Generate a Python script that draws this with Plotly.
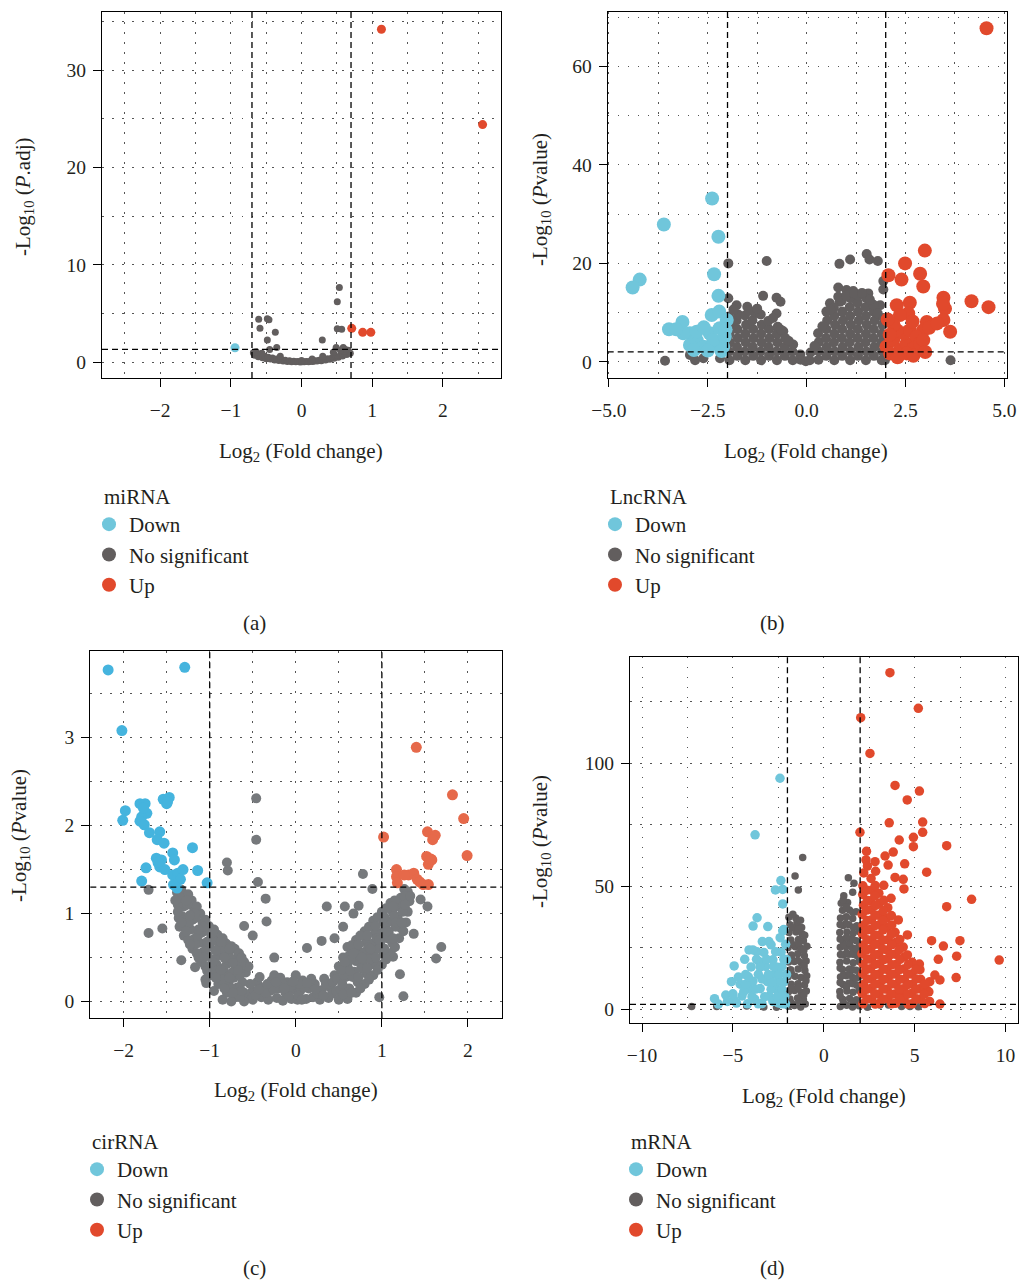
import plotly.graph_objects as go

FONT = "Liberation Serif"
W, H = 1019, 1282

# ---------------- data ----------------
categories = ["Down", "No significant", "Up"]
legend_titles = ["miRNA", "LncRNA", "cirRNA", "mRNA"]
panel_labels = ["(a)", "(b)", "(c)", "(d)"]
y_titles = ["-Log<sub>10</sub> (<i>P</i>.adj)", "-Log<sub>10</sub> (<i>P</i>value)",
            "-Log<sub>10</sub> (<i>P</i>value)", "-Log<sub>10</sub> (<i>P</i>value)"]
x_title = "Log<sub>2</sub> (Fold change)"

# thresholds (log2FC, -log10 p)
fc_cut = [0.7, 2.0, 1.0, 2.0]
p_cut = [1.3, 2.0, 1.3, 2.0]

# ticks
a_xticks = [-2, -1, 0, 1, 2]
a_yticks = [0, 10, 20, 30]
b_xticks = [-5, -2.5, 0, 2.5, 5]
b_xticktext = ["\u22125.0", "\u22122.5", "0.0", "2.5", "5.0"]
b_yticks = [0, 20, 40, 60]
c_xticks = [-2, -1, 0, 1, 2]
c_yticks = [0, 1, 2, 3]
d_xticks = [-10, -5, 0, 5, 10]
d_yticks = [0, 50, 100]

# (a) miRNA
A_UP = [(1.13, 34.2), (2.56, 24.4), (0.71, 3.46), (0.865, 3.05), (0.98, 3.05)]
A_DOWN = [(-0.94, 1.47)]
A_NS = [(-0.605, 4.39), (-0.483, 4.45), (-0.46, 4.35), (-0.587, 3.46), (-0.37, 3.05),
        (-0.483, 2.26), (-0.35, 1.5), (0.294, 2.26), (0.535, 7.67), (0.506, 6.2),
        (0.506, 3.42), (0.568, 3.36), (0.49, 1.5), (0.59, 1.5),
        (-0.68, 0.95), (-0.66, 0.7), (-0.63, 0.85), (-0.61, 0.55), (-0.58, 0.7), (-0.55, 0.45),
        (-0.52, 0.6), (-0.5, 0.35), (-0.47, 0.5), (-0.44, 0.3), (-0.41, 0.42), (-0.38, 0.22),
        (-0.35, 0.32), (-0.32, 0.15), (-0.29, 0.25), (-0.26, 0.1), (-0.23, 0.18), (-0.2, 0.06),
        (-0.17, 0.12), (-0.14, 0.04), (-0.11, 0.08), (-0.08, 0.02), (-0.05, 0.05), (-0.02, 0.01),
        (0.01, 0.03), (0.04, 0.02), (0.07, 0.05), (0.1, 0.03), (0.13, 0.08), (0.16, 0.06),
        (0.19, 0.12), (0.22, 0.1), (0.25, 0.18), (0.28, 0.14), (0.31, 0.25), (0.34, 0.2),
        (0.37, 0.33), (0.4, 0.28), (0.43, 0.42), (0.46, 0.38), (0.49, 0.55), (0.52, 0.5),
        (0.55, 0.7), (0.58, 0.62), (0.61, 0.85), (0.64, 0.78), (0.67, 1.0), (0.69, 0.9),
        (0.66, 1.2), (0.6, 1.1), (-0.45, 1.3), (0.15, 0.3), (0.3, 0.6), (-0.3, 0.6),
        (0.0, 0.15), (0.45, 1.0), (0.62, 1.3), (0.55, 1.2), (-0.64, 1.05), (-0.56, 0.9)]

# (b) LncRNA
B_UP = [(4.55, 67.8), (2.99, 22.6), (2.49, 20.0), (2.87, 17.9), (2.95, 15.3), (2.07, 17.6),
        (2.40, 16.7), (4.17, 12.3), (4.60, 11.1), (3.46, 13.0), (3.50, 10.8), (3.46, 8.5),
        (3.63, 6.1), (2.28, 11.5), (2.61, 12.0), (2.57, 9.8), (3.04, 8.1), (2.95, 6.4),
        (2.02, 3.05), (2.19, 4.4), (2.36, 2.4), (2.53, 3.7), (2.70, 2.7), (2.45, 5.8),
        (2.61, 6.4), (2.78, 5.1), (2.87, 3.7), (2.28, 6.4), (2.11, 1.7), (2.53, 1.7),
        (2.95, 4.4), (3.45, 11.8), (2.36, 9.5), (2.2, 7.5), (2.1, 5.5), (2.68, 8.2),
        (2.3, 0.9), (2.7, 1.2), (3.0, 2.0), (2.05, 8.6), (3.1, 6.9), (3.3, 7.8)]
B_DOWN = [(-2.39, 33.2), (-3.61, 27.9), (-2.23, 25.4), (-2.34, 17.8), (-2.23, 13.4),
          (-4.22, 16.7), (-4.40, 15.1), (-3.48, 6.6), (-3.14, 8.1), (-2.95, 5.8),
          (-2.40, 9.5), (-2.21, 10.2), (-2.02, 8.5), (-2.78, 4.4), (-2.95, 3.4),
          (-2.45, 5.8), (-2.28, 3.7), (-2.11, 3.05), (-2.61, 3.05), (-3.12, 5.8),
          (-2.78, 6.1), (-2.36, 4.4), (-2.07, 5.1), (-2.6, 7.0), (-2.2, 6.8),
          (-2.5, 2.3), (-2.15, 2.2), (-2.85, 2.4), (-3.3, 6.6), (-2.05, 6.5)]
B_NS = [(-1.98, 20.0), (-1.98, 12.9), (-1.01, 20.5), (-1.10, 13.4), (-0.76, 13.0),
        (-0.66, 12.2), (-0.76, 9.8), (-1.77, 11.5), (-1.50, 11.2), (-1.22, 9.8), (-0.59, 6.2),
        (0.83, 19.9), (1.10, 20.8), (1.52, 21.9), (1.59, 20.8), (1.80, 20.5), (0.80, 15.1),
        (1.01, 14.6), (1.18, 14.4), (1.56, 13.9), (1.94, 14.7), (1.94, 16.4), (0.59, 11.9),
        (0.84, 12.2), (1.26, 12.5), (1.59, 11.5), (1.86, 11.5), (-3.58, 0.2), (3.64, 0.3),
        (1.98, 4.1), (1.98, 0.3), (-2.95, 1.4), (-2.82, 0.3), (-2.61, 0.7), (-2.19, 0.7),
        (-1.95, 0.3), (-1.96, 2.1), (-1.94, 3.9), (-1.95, 5.7), (-1.93, 7.5), (-1.96, 9.2),
        (-1.75, 1.2), (-1.76, 3.0), (-1.74, 4.8), (-1.75, 6.6), (-1.77, 8.4), (-1.73, 9.6),
        (-1.55, 0.3), (-1.56, 2.1), (-1.54, 3.9), (-1.55, 5.7), (-1.53, 7.5), (-1.56, 9.4),
        (-1.35, 1.2), (-1.36, 3.0), (-1.34, 4.8), (-1.35, 6.6), (-1.37, 8.4), (-1.33, 10.1),
        (-1.15, 0.3), (-1.16, 2.1), (-1.14, 3.9), (-1.15, 5.7), (-1.13, 7.5), (-1.16, 9.6),
        (-0.95, 1.2), (-0.96, 3.0), (-0.94, 4.8), (-0.95, 6.6), (-0.97, 8.3),
        (-0.75, 0.3), (-0.76, 2.1), (-0.74, 3.9), (-0.75, 5.7), (-0.73, 7.1),
        (-0.55, 1.2), (-0.56, 3.0), (-0.54, 4.8),
        (-0.35, 0.3), (-0.36, 2.1), (-0.34, 3.5), (-0.15, 0.4), (-0.16, 1.5), (-0.02, 0.1),
        (-1.85, 10.6), (-1.45, 10.4), (-1.25, 10.8), (-0.85, 8.9), (-0.65, 6.5), (-0.45, 4.2),
        (0.08, 0.3), (0.1, 1.9), (0.3, 0.4), (0.3, 2.2), (0.31, 4.0), (0.29, 5.8),
        (0.5, 1.2), (0.51, 3.0), (0.49, 4.8), (0.5, 6.6), (0.52, 8.4), (0.5, 10.2),
        (0.7, 0.3), (0.71, 2.1), (0.69, 3.9), (0.7, 5.7), (0.72, 7.5), (0.7, 9.3), (0.69, 11.0),
        (0.9, 1.2), (0.91, 3.0), (0.89, 4.8), (0.9, 6.6), (0.92, 8.4), (0.9, 10.2), (0.89, 12.4),
        (1.1, 0.3), (1.11, 2.1), (1.09, 3.9), (1.1, 5.7), (1.12, 7.5), (1.1, 9.3), (1.09, 11.1),
        (1.11, 12.9),
        (1.3, 1.2), (1.31, 3.0), (1.29, 4.8), (1.3, 6.6), (1.32, 8.4), (1.3, 10.2), (1.29, 12.0),
        (1.31, 13.5),
        (1.5, 0.3), (1.51, 2.1), (1.49, 3.9), (1.5, 5.7), (1.52, 7.5), (1.5, 9.3), (1.49, 11.1),
        (1.51, 12.9),
        (1.7, 1.2), (1.71, 3.0), (1.69, 4.8), (1.7, 6.6), (1.72, 8.4), (1.7, 10.2), (1.69, 11.6),
        (1.9, 0.3), (1.91, 2.1), (1.89, 3.9), (1.9, 5.7), (1.92, 7.5),
        (0.2, 3.2), (0.4, 7.2), (0.6, 10.6), (0.8, 13.2), (1.0, 13.4), (1.2, 13.9), (1.4, 14.0),
        (1.6, 12.6), (1.8, 9.8), (1.95, 8.9)]

# (c) cirRNA
C_UP = [(1.40, 2.89), (1.82, 2.35), (1.95, 2.08), (1.02, 1.87), (1.53, 1.93), (1.62, 1.89),
        (1.59, 1.84), (1.99, 1.66), (1.52, 1.65), (1.58, 1.61), (1.54, 1.56), (1.17, 1.50),
        (1.17, 1.42), (1.18, 1.35), (1.31, 1.44), (1.37, 1.46), (1.41, 1.39), (1.48, 1.33),
        (1.54, 1.33), (1.26, 1.44), (1.44, 1.36), (1.57, 1.62)]
C_DOWN = [(-2.18, 3.77), (-1.29, 3.80), (-2.02, 3.08), (-1.98, 2.17), (-2.01, 2.06),
          (-1.81, 2.25), (-1.75, 2.25), (-1.73, 2.14), (-1.79, 2.10), (-1.81, 2.05),
          (-1.76, 2.01), (-1.70, 1.92), (-1.54, 2.30), (-1.47, 2.32), (-1.50, 2.25),
          (-1.58, 1.93), (-1.61, 1.84), (-1.53, 1.80), (-1.62, 1.63), (-1.56, 1.61),
          (-1.58, 1.53), (-1.52, 1.50), (-1.43, 1.69), (-1.41, 1.61), (-1.20, 1.75),
          (-1.14, 1.49), (-1.74, 1.52), (-1.79, 1.37), (-1.43, 1.44), (-1.37, 1.46),
          (-1.31, 1.50), (-1.34, 1.39), (-1.42, 1.33), (-1.38, 1.29), (-1.03, 1.35),
          (-1.77, 2.2), (-1.49, 2.27), (-1.6, 1.58)]
C_NS = [(-0.46, 2.31), (-0.46, 1.84), (-0.80, 1.58), (-0.79, 1.49), (-0.44, 1.36), (0.78, 1.45),
        (-1.71, 1.27), (-1.71, 0.78), (-1.55, 0.83), (0.89, 1.28), (1.45, 1.16), (1.53, 1.08),
        (1.69, 0.62), (1.63, 0.49), (1.25, 0.06), (0.97, 0.05), (1.21, 0.31), (1.37, 0.77),
        (-1.33, 0.47), (-1.17, 0.39), (-0.35, 1.17), (-0.34, 0.91), (0.36, 1.08), (0.57, 1.08),
        (0.73, 1.09), (0.13, 0.61), (0.30, 0.69), (0.67, 1.00), (-1.04, 0.21), (1.15, 0.62),
        (1.13, 0.51), (-0.5, 0.75), (-0.6, 0.86), (-0.25, 0.5), (0.45, 0.72), (0.55, 0.85),
        (-0.5, 0.02), (-0.5, 0.12), (-0.45, 0.22), (-0.4, 0.05), (-0.38, 0.16), (-0.32, 0.02),
        (-0.3, 0.12), (-0.28, 0.24), (-0.22, 0.04), (-0.2, 0.15), (-0.15, 0.01), (-0.12, 0.1),
        (-0.1, 0.22), (-0.05, 0.03), (-0.02, 0.14), (0.02, 0.02), (0.05, 0.12), (0.08, 0.24),
        (0.12, 0.03), (0.15, 0.15), (0.2, 0.05), (0.22, 0.2), (0.28, 0.02), (0.3, 0.13),
        (0.33, 0.26), (0.38, 0.04), (0.4, 0.16), (0.45, 0.3), (-0.25, 0.3), (0.0, 0.3),
        (-0.47, 0.07), (-0.42, 0.28), (-0.35, 0.1), (-0.26, 0.14), (-0.18, 0.27), (-0.08, 0.06),
        (-0.07, 0.17), (0.03, 0.07), (0.1, 0.16), (0.18, 0.26), (0.25, 0.09), (0.35, 0.2),
        (0.42, 0.09), (-0.15, 0.2), (0.05, 0.2),
        (-0.57, 0.05), (-0.53, 0.2), (-0.43, 0.14), (-0.33, 0.2), (-0.23, 0.22), (-0.13, 0.15),
        (-0.03, 0.23), (0.07, 0.02), (0.13, 0.21), (0.23, 0.14), (0.32, 0.07), (0.43, 0.22),
        (0.47, 0.12),
        (-0.6, 0.0), (-0.6, 0.1), (-0.62, 0.22), (-0.58, 0.33), (-0.6, 0.45), (-0.55, 0.4),
        (-0.7, 0.05), (-0.68, 0.16), (-0.72, 0.27), (-0.7, 0.38), (-0.68, 0.5), (-0.71, 0.6),
        (-0.8, 0.1), (-0.78, 0.21), (-0.82, 0.32), (-0.8, 0.43), (-0.78, 0.55), (-0.81, 0.66),
        (-0.9, 0.2), (-0.88, 0.31), (-0.92, 0.42), (-0.9, 0.53), (-0.88, 0.64), (-0.91, 0.76),
        (-1.0, 0.3), (-0.98, 0.41), (-1.02, 0.52), (-1.0, 0.63), (-0.98, 0.74), (-1.01, 0.86),
        (-1.1, 0.45), (-1.08, 0.56), (-1.12, 0.67), (-1.1, 0.78), (-1.08, 0.89), (-1.11, 1.0),
        (-1.2, 0.6), (-1.18, 0.71), (-1.22, 0.82), (-1.2, 0.93), (-1.18, 1.04), (-1.21, 1.15),
        (-1.3, 0.75), (-1.28, 0.86), (-1.32, 0.97), (-1.3, 1.08), (-1.28, 1.19),
        (-1.36, 0.95), (-1.37, 1.1), (-1.38, 1.24), (-1.33, 1.27), (-0.95, 0.12),
        (-0.85, 0.02), (-0.75, 0.0), (-1.05, 0.25),
        (-0.65, 0.05), (-0.65, 0.3), (-0.64, 0.42), (-0.66, 0.55), (-0.75, 0.15), (-0.74, 0.33),
        (-0.76, 0.49), (-0.75, 0.63), (-0.85, 0.25), (-0.84, 0.38), (-0.86, 0.6), (-0.85, 0.72),
        (-0.95, 0.35), (-0.94, 0.48), (-0.96, 0.69), (-0.95, 0.82), (-1.05, 0.4), (-1.04, 0.6),
        (-1.06, 0.8), (-1.05, 0.93), (-1.15, 0.55), (-1.14, 0.75), (-1.16, 0.95), (-1.15, 1.08),
        (-1.25, 0.7), (-1.24, 0.9), (-1.26, 1.1), (-1.25, 1.22), (-1.35, 0.85), (-1.34, 1.18),
        (-0.63, 0.12), (-0.67, 0.36), (-0.63, 0.5), (-0.73, 0.1), (-0.77, 0.27), (-0.73, 0.44),
        (-0.77, 0.6), (-0.83, 0.15), (-0.87, 0.36), (-0.83, 0.5), (-0.87, 0.68), (-0.93, 0.27),
        (-0.97, 0.45), (-0.93, 0.58), (-0.97, 0.78), (-1.03, 0.35), (-1.07, 0.5), (-1.03, 0.68),
        (-1.07, 0.85), (-1.13, 0.5), (-1.17, 0.65), (-1.13, 0.82), (-1.17, 1.0), (-1.23, 0.65),
        (-1.27, 0.8), (-1.23, 0.98), (-1.27, 1.15), (-1.33, 0.9), (-1.37, 1.02), (-1.4, 1.15),
        (0.5, 0.02), (0.52, 0.14), (0.48, 0.26), (0.5, 0.4), (0.55, 0.5),
        (0.6, 0.03), (0.62, 0.15), (0.58, 0.28), (0.6, 0.4), (0.62, 0.52), (0.6, 0.62),
        (0.7, 0.1), (0.72, 0.22), (0.68, 0.34), (0.7, 0.46), (0.72, 0.58), (0.7, 0.7),
        (0.8, 0.2), (0.82, 0.32), (0.78, 0.44), (0.8, 0.56), (0.82, 0.68), (0.8, 0.8),
        (0.9, 0.3), (0.92, 0.42), (0.88, 0.54), (0.9, 0.66), (0.92, 0.78), (0.9, 0.92),
        (1.0, 0.42), (1.02, 0.54), (0.98, 0.66), (1.0, 0.78), (1.02, 0.9), (1.0, 1.02),
        (1.1, 0.55), (1.12, 0.67), (1.08, 0.79), (1.1, 0.91), (1.12, 1.03), (1.1, 1.12),
        (1.2, 0.72), (1.22, 0.84), (1.18, 0.96), (1.2, 1.08), (1.22, 1.18),
        (1.28, 0.9), (1.3, 1.02), (1.32, 1.14), (1.3, 1.25), (1.26, 1.28),
        (0.55, 0.08), (0.56, 0.3), (0.54, 0.2), (0.65, 0.1), (0.66, 0.28), (0.64, 0.48),
        (0.65, 0.64), (0.75, 0.15), (0.76, 0.38), (0.74, 0.52), (0.75, 0.75), (0.85, 0.25),
        (0.86, 0.48), (0.84, 0.62), (0.85, 0.85), (0.95, 0.36), (0.96, 0.6), (0.94, 0.72),
        (0.95, 0.96), (1.05, 0.48), (1.06, 0.72), (1.04, 0.84), (1.05, 1.06), (1.15, 0.62),
        (1.16, 0.85), (1.14, 0.98), (1.15, 1.15), (1.25, 0.8), (1.24, 1.02), (1.26, 1.2),
        (0.53, 0.36), (0.57, 0.45), (0.63, 0.35), (0.67, 0.55), (0.73, 0.28), (0.77, 0.5),
        (0.73, 0.65), (0.83, 0.38), (0.87, 0.6), (0.83, 0.75), (0.93, 0.5), (0.97, 0.7),
        (0.93, 0.86), (1.03, 0.6), (1.07, 0.8), (1.03, 0.96), (1.13, 0.72), (1.17, 0.9),
        (1.13, 1.08), (1.23, 0.9), (1.27, 1.1), (1.33, 1.2)]

# (d) mRNA
D_UP = [(3.64, 136.8), (5.20, 122.3), (2.03, 118.5), (2.54, 104.0), (3.92, 91.0), (5.26, 88.7),
        (4.59, 85.1), (3.60, 75.8), (5.44, 76.1), (5.44, 71.9), (1.99, 71.9), (4.15, 68.8),
        (4.93, 69.9), (4.93, 66.1), (6.76, 66.5), (3.82, 63.9), (3.37, 62.3), (2.32, 60.7),
        (2.82, 60.0), (3.54, 58.6), (4.45, 59.1), (5.66, 55.7), (3.92, 53.6), (4.37, 52.8),
        (4.41, 48.9), (8.13, 44.7), (6.76, 41.7), (5.93, 27.9), (7.49, 27.9), (6.58, 25.7),
        (7.31, 21.6), (9.65, 20.0), (6.30, 20.3), (7.28, 12.9), (6.39, 2.1), (5.26, 18.4),
        (6.11, 13.9), (6.39, 11.9), (5.66, 7.8), (4.3, 6.5), (5.1, 4.2),
        (2.15, 2.2), (2.12, 6.3), (2.18, 10.1), (2.14, 14.4), (2.16, 18.2), (2.1, 22.5),
        (2.17, 26.1), (2.13, 30.4), (2.16, 34.2), (2.11, 38.5), (2.18, 42.3), (2.14, 46.6),
        (2.15, 50.2), (2.2, 55.4), (2.62, 4.1), (2.58, 8.4), (2.63, 12.2), (2.57, 16.5),
        (2.61, 20.3), (2.59, 24.6), (2.64, 28.2), (2.56, 32.4), (2.62, 36.3), (2.6, 40.5),
        (2.58, 44.1), (2.63, 48.4), (2.6, 53.2), (3.05, 2.3), (3.02, 6.1), (3.08, 10.4),
        (3.03, 14.2), (3.07, 18.5), (3.01, 22.3), (3.06, 26.4), (3.04, 30.1), (3.09, 34.5),
        (3.02, 38.2), (3.06, 43.1), (3.03, 47.2), (3.52, 4.3), (3.48, 8.1), (3.53, 12.4),
        (3.47, 16.2), (3.51, 20.5), (3.49, 24.1), (3.54, 28.3), (3.5, 33.2), (3.46, 37.1),
        (3.52, 41.3), (3.95, 2.4), (3.92, 6.2), (3.97, 10.1), (3.94, 14.3), (3.98, 18.2),
        (3.93, 22.4), (3.96, 27.1), (3.92, 31.3), (4.41, 4.2), (4.38, 8.3), (4.43, 12.1),
        (4.39, 16.4), (4.42, 21.2), (4.37, 25.3), (4.86, 2.2), (4.83, 6.4), (4.88, 10.2),
        (4.84, 14.3), (4.87, 19.1), (5.32, 4.1), (5.28, 8.3), (5.33, 12.2), (5.29, 16.1),
        (5.82, 3.2), (5.78, 7.1), (5.83, 11.2), (2.4, 58.2), (2.85, 56.1), (3.3, 50.4),
        (2.35, 64.2), (3.7, 45.1), (4.1, 36.3), (4.6, 30.2),
        (2.38, 4.2), (2.36, 8.1), (2.39, 12.3), (2.37, 16.2), (2.4, 20.4), (2.35, 24.1),
        (2.38, 28.3), (2.36, 32.2), (2.39, 36.1), (2.37, 40.3), (2.4, 44.2), (2.36, 48.4),
        (2.83, 2.1), (2.81, 6.3), (2.84, 10.2), (2.82, 14.1), (2.85, 18.3), (2.8, 22.2),
        (2.83, 26.4), (2.81, 30.2), (2.84, 34.1), (2.82, 38.3), (2.85, 42.2), (2.81, 46.1),
        (2.83, 50.3), (3.28, 4.1), (3.26, 8.2), (3.29, 12.1), (3.27, 16.3), (3.3, 20.2),
        (3.25, 24.4), (3.28, 28.1), (3.26, 32.3), (3.29, 36.2), (3.27, 40.1), (3.3, 44.3),
        (3.73, 2.2), (3.71, 6.1), (3.74, 10.3), (3.72, 14.2), (3.75, 18.1), (3.7, 22.3),
        (3.73, 26.2), (3.71, 30.4), (3.74, 34.3), (3.72, 38.1), (4.18, 4.3), (4.16, 8.1),
        (4.19, 12.2), (4.17, 16.1), (4.2, 20.3), (4.15, 24.2), (4.18, 28.4), (4.63, 2.1),
        (4.61, 6.2), (4.64, 10.1), (4.62, 14.3), (4.65, 18.2), (4.6, 22.1), (5.08, 4.2),
        (5.06, 8.1), (5.09, 12.3), (5.07, 16.2), (5.55, 2.3), (5.53, 6.1), (5.56, 10.2)]
D_DOWN = [(-2.41, 93.9), (-3.78, 70.9), (-2.36, 52.3), (-2.26, 48.7), (-2.66, 48.5), (-2.26, 42.8),
          (-3.67, 37.2), (-3.89, 33.8), (-3.08, 33.6), (-2.26, 31.9), (-3.38, 27.5), (-3.02, 27.5),
          (-4.11, 24.1), (-3.68, 23.4), (-4.35, 20.3), (-4.93, 17.6), (-3.56, 19.4), (-5.08, 11.2),
          (-5.39, 5.8), (-6.01, 4.3), (-4.94, 3.8),
          (-5.8, 2.1), (-5.3, 3.2), (-5.0, 6.3), (-4.8, 2.5), (-4.6, 10.2), (-4.5, 5.4),
          (-4.3, 14.1), (-4.2, 2.2), (-4.1, 8.3), (-4.0, 17.2), (-3.9, 11.4), (-3.8, 4.1),
          (-3.7, 20.3), (-3.6, 14.2), (-3.5, 8.4), (-3.4, 2.3), (-3.3, 23.1), (-3.2, 17.4),
          (-3.1, 11.2), (-3.0, 5.3), (-2.9, 26.2), (-2.8, 20.1), (-2.7, 14.3), (-2.6, 8.2),
          (-2.5, 2.6), (-2.4, 29.1), (-2.35, 23.2), (-2.3, 17.3), (-2.2, 11.1), (-2.15, 5.2),
          (-2.1, 26.4), (-2.05, 20.2), (-2.05, 14.1), (-2.1, 2.1), (-2.6, 17.2), (-3.4, 12.3),
          (-4.4, 7.2), (-3.9, 24.1), (-2.8, 3.2), (-2.2, 32.4), (-2.5, 11.3), (-2.9, 8.1),
          (-4.7, 13.1), (-4.3, 10.2), (-3.95, 5.1), (-3.6, 2.2), (-3.25, 5.1), (-3.15, 20.3),
          (-2.85, 11.1), (-2.65, 23.4), (-2.55, 5.2), (-2.3, 8.1), (-2.2, 20.3), (-2.45, 14.2),
          (-3.5, 17.1), (-4.15, 13.2), (-3.05, 14.1), (-2.75, 17.3), (-2.3, 2.2), (-3.75, 8.2)]
D_NS = [(-1.16, 61.7), (-1.58, 54.2), (-1.40, 48.5), (-7.27, 1.1), (-5.89, 1.1), (-4.24, 1.3),
        (-2.6, 0.8), (-3.3, 0.9),
        (-1.95, 1.2), (-1.62, 1.5), (-1.27, 0.9), (-1.02, 2.1), (-1.86, 4.2), (-1.44, 4.6),
        (-1.12, 3.9), (-1.94, 7.1), (-1.61, 7.6), (-1.24, 6.8), (-0.96, 7.4), (-1.79, 10.2),
        (-1.42, 10.4), (-1.06, 9.9), (-1.96, 13.2), (-1.58, 13.4), (-1.26, 12.9), (-0.94, 13.6),
        (-1.82, 16.1), (-1.41, 16.4), (-1.04, 15.8), (-1.93, 19.2), (-1.62, 19.4), (-1.23, 18.9),
        (-0.97, 19.6), (-1.78, 22.1), (-1.43, 22.6), (-1.07, 21.8), (-1.96, 25.1), (-1.57, 25.4),
        (-1.27, 24.9), (-0.93, 25.6), (-1.81, 28.2), (-1.39, 28.4), (-1.12, 27.9), (-1.91, 31.2),
        (-1.52, 31.4), (-1.18, 30.6), (-1.86, 34.4), (-1.48, 35.1), (-1.22, 33.2), (-1.92, 37.4),
        (-1.54, 37.1), (-1.28, 36.2),
        (-1.78, 2.6), (-1.43, 2.1), (-1.1, 5.8), (-1.77, 8.6), (-1.41, 8.9), (-0.98, 11.6),
        (-1.79, 14.7), (-1.08, 17.6), (-1.77, 20.4), (-1.43, 19.8), (-1.1, 23.9), (-1.77, 26.6),
        (-1.39, 26.8), (-1.05, 30.1), (-1.72, 33.1), (-1.4, 32.6), (-1.7, 38.6),
        (0.91, 1.1), (1.26, 1.6), (1.58, 0.9), (1.94, 1.4), (1.04, 4.1), (1.42, 4.4), (1.79, 3.9),
        (0.88, 7.2), (1.27, 7.4), (1.61, 6.9), (1.95, 7.6), (1.06, 10.1), (1.38, 10.6), (1.82, 9.8),
        (0.92, 13.1), (1.24, 13.6), (1.59, 12.9), (1.96, 13.4), (1.03, 16.2), (1.41, 16.4),
        (1.78, 15.9), (0.89, 19.1), (1.26, 19.6), (1.62, 18.9), (1.94, 19.4), (1.07, 22.1),
        (1.39, 22.4), (1.81, 21.9), (0.91, 25.2), (1.23, 25.4), (1.58, 24.9), (1.95, 25.6),
        (1.04, 28.1), (1.42, 28.6), (1.79, 27.9), (0.88, 31.2), (1.27, 31.4), (1.61, 30.9),
        (1.93, 31.6), (1.06, 34.1), (1.38, 34.4), (1.82, 33.9), (0.92, 37.1), (1.24, 37.6),
        (1.59, 36.9), (1.03, 40.2), (1.41, 40.4), (1.78, 39.6), (0.96, 43.1), (1.31, 43.4),
        (1.1, 46.1), (1.35, 53.5), (1.66, 51.2), (1.59, 47.6), (1.07, 44.4),
        (1.08, 2.6), (1.6, 3.1), (0.9, 5.4), (1.25, 9.1), (1.6, 10.4), (0.9, 10.9), (1.78, 12.6),
        (1.09, 13.9), (1.42, 14.6), (1.6, 16.1), (0.9, 16.8), (1.25, 22.9), (1.6, 22.4),
        (0.92, 22.3), (1.78, 24.6), (1.08, 26.3), (1.42, 26.9), (1.6, 28.4), (0.9, 28.6),
        (1.25, 29.2), (1.62, 33.3), (1.22, 34.9), (0.9, 34.5), (1.6, 39.3), (1.24, 41.6),
        (3.09, 1.7), (4.28, 1.1), (4.74, 1.1), (3.56, 1.7), (2.4, 0.8), (5.2, 1.0)]

# ---------------- styling ----------------
BLUE, GREY, RED = "#70c6db", "#625e5e", "#e1492c"
BLUE_C, GREY_C, RED_C = "#45b4de", "#76797c", "#e6694a"


def px_x(p):
    return p / W


def px_y(p):
    return 1 - p / H


panels = [
    dict(ns=A_NS, down=A_DOWN, up=A_UP, colors=(BLUE, GREY, RED), s_ns=7, s_sig=9,
         dom_x=(102, 501), dom_y=(12, 378), xr=(-2.82, 2.82), yr=(-1.64, 35.97),
         xt=a_xticks, xtt=None, yt=a_yticks, xminor=0.5, yminor=5,
         ytitle_pos=(24, 197), xtitle_pos=(301, 452), leg=(102, 497), lab=(255, 623)),
    dict(ns=B_NS, down=B_DOWN, up=B_UP, colors=(BLUE, GREY, RED), s_ns=10, s_sig=14,
         dom_x=(607.7, 1006.7), dom_y=(12, 378), xr=(-5.03, 5.06), yr=(-3.3, 71.1),
         xt=b_xticks, xtt=b_xticktext, yt=b_yticks, xminor=1.25, yminor=10,
         ytitle_pos=(541, 200), xtitle_pos=(806, 452), leg=(608, 497), lab=(772, 623)),
    dict(ns=C_NS, down=C_DOWN, up=C_UP, colors=(BLUE_C, GREY_C, RED_C), s_ns=10, s_sig=11,
         dom_x=(90.3, 501.7), dom_y=(651, 1018.3), xr=(-2.387, 2.392), yr=(-0.19, 3.985),
         xt=c_xticks, xtt=None, yt=c_yticks, xminor=0.5, yminor=0.5,
         ytitle_pos=(20, 836), xtitle_pos=(296, 1091), leg=(90, 1142), lab=(255, 1268)),
    dict(ns=D_NS, down=D_DOWN, up=D_UP, colors=(BLUE, GREY, RED), s_ns=7.5, s_sig=9.5,
         dom_x=(630, 1018.3), dom_y=(656.7, 1023.3), xr=(-10.66, 10.7), yr=(-5.7, 143.3),
         xt=d_xticks, xtt=None, yt=d_yticks, xminor=2.5, yminor=25,
         ytitle_pos=(541, 842), xtitle_pos=(824, 1097), leg=(629, 1142), lab=(772, 1268)),
]

fig = go.Figure()
layout = dict(width=W, height=H, margin=dict(l=0, r=0, t=0, b=0, autoexpand=False),
              paper_bgcolor="white", plot_bgcolor="white",
              font=dict(family=FONT, size=19, color="#231f20"), showlegend=True)
annotations = []
shapes = []
grid_dash = "1.5px,8.5px"
grid_color = "#555555"

for i, p in enumerate(panels):
    n = "" if i == 0 else str(i + 1)
    xa, ya = "x" + n, "y" + n
    legname = "legend" + n
    cb, cg, cr = p["colors"]
    for pts, col, size in [(p["ns"], cg, p["s_ns"]), (p["down"], cb, p["s_sig"]), (p["up"], cr, p["s_sig"])]:
        fig.add_trace(go.Scatter(x=[q[0] for q in pts], y=[q[1] for q in pts], mode="markers",
                                 marker=dict(size=size, color=col, line=dict(width=0)),
                                 xaxis=xa, yaxis=ya, showlegend=False, hoverinfo="skip"))
    # legend entries
    for cat, col in zip(categories, [BLUE, GREY, RED]):
        fig.add_trace(go.Scatter(x=[None], y=[None], mode="markers", name=cat,
                                 marker=dict(size=14, color=col), xaxis=xa, yaxis=ya,
                                 legend=legname, showlegend=True))
    x0, x1 = p["dom_x"]
    y0, y1 = p["dom_y"]
    axis_common = dict(showline=True, mirror=True, linecolor="black", linewidth=1.2,
                       ticks="outside", ticklen=8, tickwidth=1.2, tickcolor="black",
                       showgrid=True, griddash=grid_dash, gridcolor=grid_color, gridwidth=1.3,
                       zeroline=False, automargin=False,
                       tickfont=dict(family=FONT, size=19.5, color="#231f20"))
    xaxis = dict(domain=[px_x(x0), px_x(x1)], range=list(p["xr"]), anchor=ya,
                 tickmode="array", tickvals=p["xt"], ticklabelstandoff=6,
                 minor=dict(dtick=p["xminor"], tick0=0, showgrid=True, griddash=grid_dash,
                            gridcolor=grid_color, gridwidth=1.3, ticks=""),
                 **axis_common)
    if p["xtt"] is not None:
        xaxis["ticktext"] = p["xtt"]
    yaxis = dict(domain=[px_y(y1), px_y(y0)], range=list(p["yr"]), anchor=xa,
                 tickmode="array", tickvals=p["yt"], ticklabelstandoff=3,
                 minor=dict(dtick=p["yminor"], tick0=0, showgrid=True, griddash=grid_dash,
                            gridcolor=grid_color, gridwidth=1.3, ticks=""),
                 **axis_common)
    layout["xaxis" + n] = xaxis
    layout["yaxis" + n] = yaxis
    # threshold lines
    for v in (-fc_cut[i], fc_cut[i]):
        shapes.append(dict(type="line", xref=xa, yref=ya + " domain", x0=v, x1=v, y0=0, y1=1,
                           line=dict(color="black", width=1.3, dash="6px,4px")))
    shapes.append(dict(type="line", xref=xa + " domain", yref=ya, x0=0, x1=1, y0=p_cut[i], y1=p_cut[i],
                       line=dict(color="black", width=1.3, dash="6px,4px")))
    # titles
    tx, ty = p["ytitle_pos"]
    annotations.append(dict(text=y_titles[i], x=px_x(tx), y=px_y(ty), xref="paper", yref="paper",
                            showarrow=False, textangle=-90, xanchor="center", yanchor="middle",
                            font=dict(family=FONT, size=21, color="#231f20")))
    tx, ty = p["xtitle_pos"]
    annotations.append(dict(text=x_title, x=px_x(tx), y=px_y(ty), xref="paper", yref="paper",
                            showarrow=False, xanchor="center", yanchor="middle",
                            font=dict(family=FONT, size=21, color="#231f20")))
    lx, ly = p["leg"]
    annotations.append(dict(text=legend_titles[i], x=px_x(lx), y=px_y(ly), xref="paper", yref="paper",
                            showarrow=False, xanchor="left", yanchor="middle",
                            font=dict(family=FONT, size=21, color="#231f20")))
    lbx, lby = p["lab"]
    annotations.append(dict(text=panel_labels[i], x=px_x(lbx), y=px_y(lby), xref="paper", yref="paper",
                            showarrow=False, xanchor="center", yanchor="middle",
                            font=dict(family=FONT, size=21, color="#231f20")))
    layout[legname] = dict(x=px_x(lx - 13), y=px_y(ly + 7), xanchor="left", yanchor="top",
                           font=dict(family=FONT, size=21, color="#231f20"),
                           bgcolor="rgba(0,0,0,0)", traceorder="normal", itemclick=False,
                           itemdoubleclick=False, tracegroupgap=0)

layout["annotations"] = annotations
layout["shapes"] = shapes
fig.update_layout(**layout)
fig.write_html("out.html", config={"displayModeBar": False},
               post_script="document.body.style.margin='0px';document.body.style.overflow='hidden';")
